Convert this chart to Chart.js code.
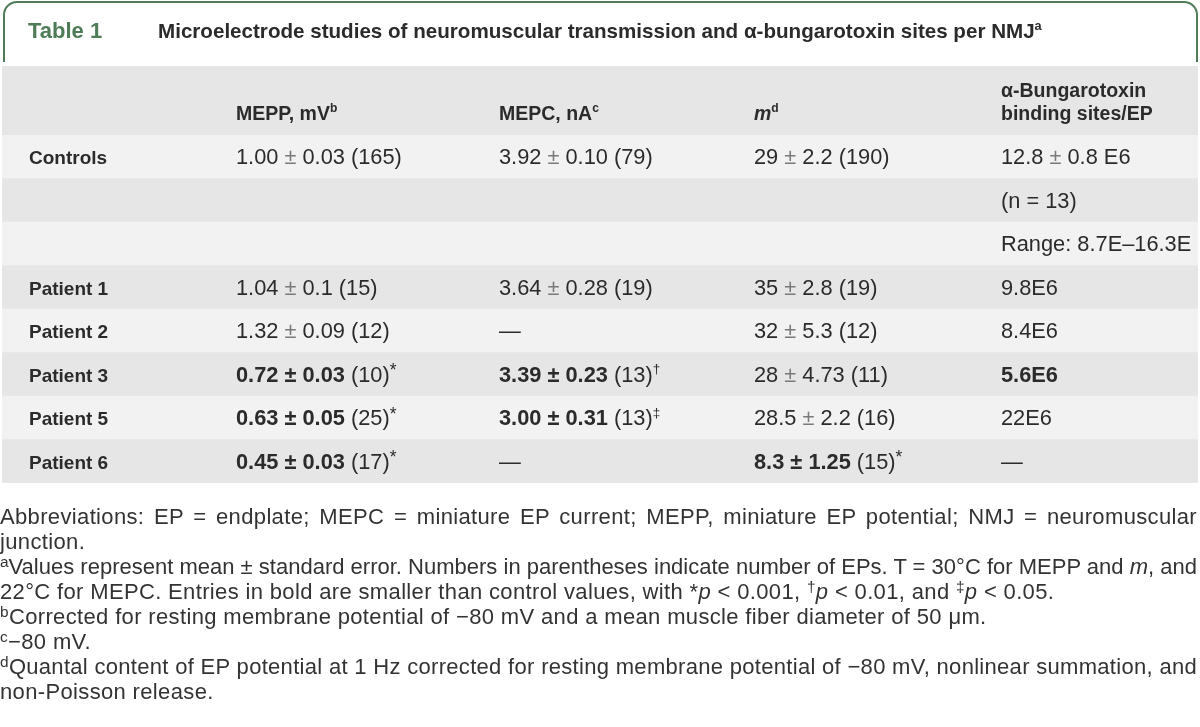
<!DOCTYPE html>
<html>
<head>
<meta charset="utf-8">
<script src="https://cdn.jsdelivr.net/npm/chart.js@4.4.0/dist/chart.umd.min.js"></script>
<style>
  body { margin: 0; background: #fff; width: 1200px; height: 727px; overflow: hidden; position: relative;
         font-family: "Liberation Sans", Arial, sans-serif; }
  #myChart { position: absolute; left: 0; top: 0; }
  #notes { position: absolute; left: 0; top: 504px; width: 1197px; font-size: 22px; line-height: 25px;
           letter-spacing: 0.35px; color: #333; }
  #notes div { text-align: left; white-space: nowrap; height: 25px; }
  #notes div.j { text-align: justify; text-align-last: justify; white-space: normal; }
  #notes sup { font-size: 0.7em; vertical-align: 0.45em; line-height: 0; }
</style>
</head>
<body>
<canvas id="myChart" width="1200" height="727"></canvas>
<div id="notes">
  <div class="j">Abbreviations: EP = endplate; MEPC = miniature EP current; MEPP, miniature EP potential; NMJ = neuromuscular</div>
  <div>junction.</div>
  <div class="j"><sup>a</sup>Values represent mean ± standard error. Numbers in parentheses indicate number of EPs. T = 30°C for MEPP and <i>m</i>, and</div>
  <div>22°C for MEPC. Entries in bold are smaller than control values, with *<i>p</i> &lt; 0.001, <sup>†</sup><i>p</i> &lt; 0.01, and <sup>‡</sup><i>p</i> &lt; 0.05.</div>
  <div><sup>b</sup>Corrected for resting membrane potential of −80 mV and a mean muscle fiber diameter of 50 μm.</div>
  <div><sup>c</sup>−80 mV.</div>
  <div class="j"><sup>d</sup>Quantal content of EP potential at 1 Hz corrected for resting membrane potential of −80 mV, nonlinear summation, and</div>
  <div>non-Poisson release.</div>
</div>
<script>
// table content (** = bold, ^x = superscript, ~ = italic)
const tableLabel = 'Table 1';
const tableTitle = 'Microelectrode studies of neuromuscular transmission and α-bungarotoxin sites per NMJ^a';
const columnHeaders = ['', 'MEPP, mV^b', 'MEPC, nA^c', '~m~^d', 'α-Bungarotoxin\nbinding sites/EP'];
const rowLabels = ['Controls', '', '', 'Patient 1', 'Patient 2', 'Patient 3', 'Patient 5', 'Patient 6'];
const mepp = ['1.00 ± 0.03 (165)', '', '', '1.04 ± 0.1 (15)', '1.32 ± 0.09 (12)',
              '**0.72 ± 0.03** (10)^*', '**0.63 ± 0.05** (25)^*', '**0.45 ± 0.03** (17)^*'];
const mepc = ['3.92 ± 0.10 (79)', '', '', '3.64 ± 0.28 (19)', '—',
              '**3.39 ± 0.23** (13)^†', '**3.00 ± 0.31** (13)^‡', '—'];
const quantal = ['29 ± 2.2 (190)', '', '', '35 ± 2.8 (19)', '32 ± 5.3 (12)',
                 '28 ± 4.73 (11)', '28.5 ± 2.2 (16)', '**8.3 ± 1.25** (15)^*'];
const btxSites = ['12.8 ± 0.8 E6', '(n = 13)', 'Range: 8.7E–16.3E', '9.8E6', '8.4E6', '**5.6E6**', '22E6', '—'];

const FONT = '"Liberation Sans", Arial, sans-serif';
const colX = [29, 236, 499, 754, 1001];
const green = '#4d7c57';
const ink = '#2b2b2b';

function drawRich(ctx, str, x, y, size, bold) {
    let italic = false;
    const parts = str.split(/(\*\*|\^.|~|±)/);
    for (const p of parts) {
        if (!p) continue;
        if (p === '**') { bold = !bold; continue; }
        if (p === '~') { italic = !italic; continue; }
        const sup = p.length === 2 && p[0] === '^';
        const text = sup ? p[1] : p;
        const fs = sup ? size * (text === '*' ? 0.8 : 0.62) : size;
        ctx.font = (italic ? 'italic ' : '') + (bold ? 'bold ' : '') + fs + 'px ' + FONT;
        const keep = ctx.fillStyle;
        if (p === '±' && !bold) ctx.fillStyle = '#7a7a7a';
        ctx.fillText(text, x, sup ? y - size * (text === '*' ? 0.25 : 0.4) : y);
        ctx.fillStyle = keep;
        x += ctx.measureText(text).width;
    }
}

const tablePlugin = {
    id: 'tableText',
    beforeDatasetsDraw(chart) {
        const c = chart.ctx, area = chart.chartArea;
        // header band
        c.save();
        c.fillStyle = '#e6e6e6';
        c.fillRect(area.left, area.top - 69, area.right - area.left, 69);
        c.restore();
    },
    afterDatasetsDraw(chart) {
        const c = chart.ctx, area = chart.chartArea;
        const xs = chart.scales.x, ys = chart.scales.y;
        c.save();
        // title tab
        c.strokeStyle = green;
        c.lineWidth = 2;
        c.beginPath();
        c.moveTo(4, 62);
        c.arcTo(4, 2, 20, 2, 13);
        c.arcTo(1197, 2, 1197, 20, 13);
        c.lineTo(1197, 62);
        c.stroke();
        c.textBaseline = 'alphabetic';
        c.fillStyle = green;
        drawRich(c, tableLabel, 28, 38, 22, true);
        c.fillStyle = ink;
        drawRich(c, tableTitle, 158, 38, 20.6, true);

        // column headers
        columnHeaders.forEach((h, j) => {
            const lines = h.split('\n');
            lines.forEach((ln, k) => {
                drawRich(c, ln, xs.getPixelForValue(colX[j]), area.top - 15 - (lines.length - 1 - k) * 23, 19.5, true);
            });
        });

        // cells
        const cols = [rowLabels, mepp, mepc, quantal, btxSites];
        cols.forEach((col, j) => {
            col.forEach((v, i) => {
                if (!v) return;
                const y = ys.getPixelForValue(i) + 7.5;
                if (j === 0) drawRich(c, v, xs.getPixelForValue(colX[j]), y, 19, true);
                else drawRich(c, v, xs.getPixelForValue(colX[j]), y, 21.8, false);
            });
        });
        c.restore();
    }
};

const ctx = document.getElementById('myChart').getContext('2d');
const myChart = new Chart(ctx, {
    type: 'bar',
    data: {
        labels: rowLabels.map((l, i) => l || ' '.repeat(i)),
        datasets: [{
            data: rowLabels.map(() => [2, 1198]),
            backgroundColor: rowLabels.map((_, i) => i % 2 === 0 ? '#f2f2f2' : '#e6e6e6'),
            borderWidth: 0,
            barPercentage: 1,
            categoryPercentage: 1
        }]
    },
    options: {
        indexAxis: 'y',
        responsive: false,
        animation: false,
        events: [],
        layout: { padding: { top: 135, bottom: 244, left: 2, right: 2 } },
        scales: {
            x: { display: false, min: 2, max: 1198 },
            y: { display: false }
        },
        plugins: {
            legend: { display: false },
            tooltip: { enabled: false }
        }
    },
    plugins: [tablePlugin]
});

// keep each justified footnote line on one line
document.querySelectorAll('#notes div.j').forEach(d => {
    d.style.height = 'auto';
    let ls = 0.35;
    while (d.offsetHeight > 30 && ls > -1) {
        ls -= 0.05;
        d.style.letterSpacing = ls + 'px';
    }
    d.style.height = '25px';
});
</script>
</body>
</html>
